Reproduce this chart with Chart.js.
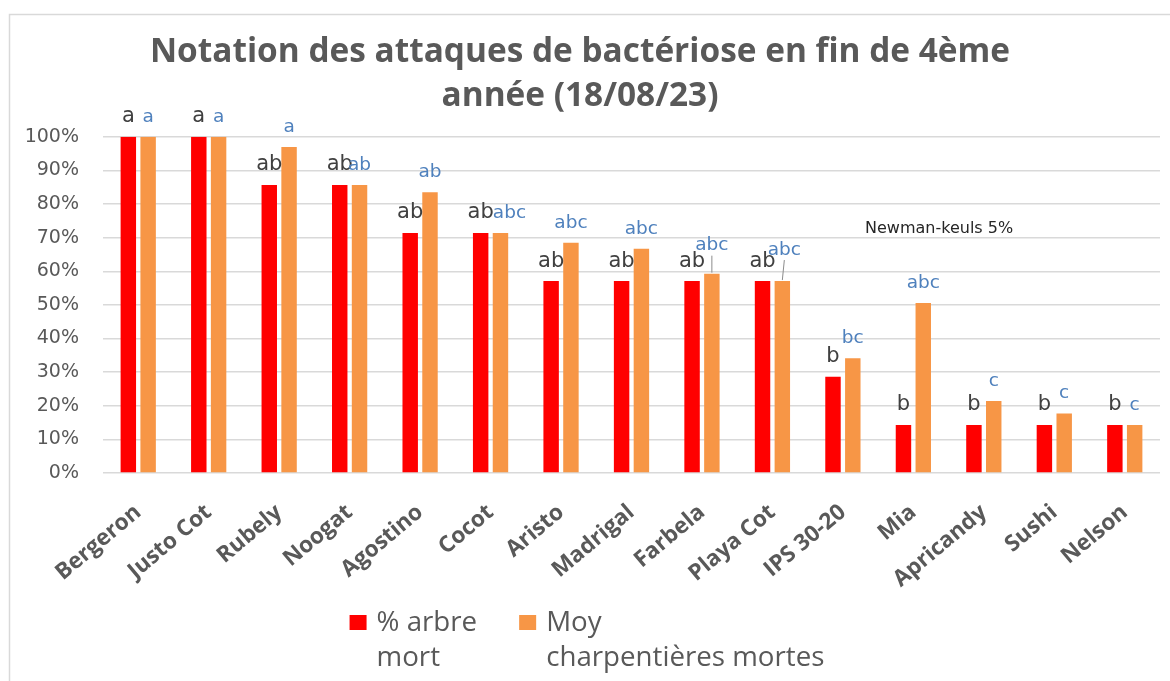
<!DOCTYPE html>
<html>
<head>
<meta charset="utf-8">
<script src="https://cdn.jsdelivr.net/npm/chart.js@4"></script>
<style>
html,body{margin:0;padding:0;background:#fff;overflow:hidden}
#wrap{width:1170px;height:681px;position:relative}
</style>
</head>
<body>
<div id="wrap"><canvas id="c" width="1170" height="681"></canvas></div>
<script>
// ---- data ----
const categories = ["Bergeron","Justo Cot","Rubely","Noogat","Agostino","Cocot","Aristo","Madrigal","Farbela","Playa Cot","IPS 30-20","Mia","Apricandy","Sushi","Nelson"];
const pctArbreMort = [100,100,85.7,85.7,71.4,71.4,57.1,57.1,57.1,57.1,28.6,14.3,14.3,14.3,14.3];
const moyCharpentieres = [100,100,97,85.7,83.5,71.4,68.5,66.7,59.3,57.1,34.1,50.6,21.4,17.7,14.3];
const lettersArbre = ["a","a","ab","ab","ab","ab","ab","ab","ab","ab","b","b","b","b","b"];
const lettersCharp = ["a","a","a","ab","ab","abc","abc","abc","abc","abc","bc","abc","c","c","c"];
const yTickValues = [0,10,20,30,40,50,60,70,80,90,100];
const seriesNames = [["% arbre","mort"],["Moy","charpentières mortes"]];
const titleLines = ["Notation des attaques de bactériose en fin de 4ème","année (18/08/23)"];
const noteText = "Newman-keuls 5%";

// ---- styling ----
const colors = ["#FF0000","#F79646"];
const letterColors = ["#404040","#4F81BD"];
// per-label tweaks for the second series (dx, extra lift, leader line)
const charpLabelTweaks = {5:{dx:9,lift:0}, 8:{dx:0,lift:8,leader:true}, 9:{dx:2,lift:11,leader:true}};

const framePlugin = {
  id:'frame',
  beforeDraw(chart){
    const ctx = chart.ctx;
    ctx.save();
    ctx.fillStyle = '#fff';
    ctx.fillRect(0,0,chart.width,chart.height);
    ctx.strokeStyle = '#d9d9d9';
    ctx.lineWidth = 1.5;
    ctx.strokeRect(9.5,14.5,chart.width+20,chart.height+20);
    ctx.restore();
  }
};

const lettersPlugin = {
  id:'letters',
  afterDatasetsDraw(chart){
    const ctx = chart.ctx;
    ctx.save();
    ctx.textAlign = 'center';
    ctx.textBaseline = 'middle';
    const sets = [lettersArbre, lettersCharp];
    const fonts = ["21px 'DejaVu Sans'", "18.5px 'DejaVu Sans'"];
    [0,1].forEach(di=>{
      const meta = chart.getDatasetMeta(di);
      ctx.font = fonts[di];
      ctx.fillStyle = letterColors[di];
      meta.data.forEach((bar,i)=>{
        let dx = 0, lift = 0, tw = null;
        if (di===1 && charpLabelTweaks[i]) { tw = charpLabelTweaks[i]; dx = tw.dx; lift = tw.lift; }
        const x = bar.x + dx;
        const y = bar.y - 20 - lift;
        ctx.fillText(sets[di][i], x, y);
        if (tw && tw.leader) {
          ctx.save();
          ctx.strokeStyle = '#8c8c8c';
          ctx.lineWidth = 1;
          ctx.beginPath();
          ctx.moveTo(x, y + 10);
          ctx.lineTo(bar.x, bar.y - 1);
          ctx.stroke();
          ctx.restore();
        }
      });
    });
    // note
    const ys = chart.scales.y;
    ctx.font = "16px 'DejaVu Sans'";
    ctx.fillStyle = '#262626';
    ctx.textAlign = 'left';
    ctx.fillText(noteText, 865, ys.getPixelForValue(72.7));
    ctx.restore();
  }
};

const legendPlugin = {
  id:'customLegend',
  afterDraw(chart){
    const ctx = chart.ctx;
    ctx.save();
    ctx.font = "27.7px 'Open Sans'";
    ctx.textBaseline = 'middle';
    ctx.textAlign = 'left';
    const box = 17, gapBox = 10, gapItem = 42;
    const widths = seriesNames.map(lines => Math.max(...lines.map(l=>ctx.measureText(l).width)));
    const total = widths.reduce((a,w)=>a+box+gapBox+w,0) + gapItem*(seriesNames.length-1);
    let x = chart.width/2 - total/2 + 2;
    const y1 = 623, lh = 35;
    seriesNames.forEach((lines,i)=>{
      ctx.fillStyle = colors[i];
      ctx.fillRect(x, y1-8, box, 15);
      ctx.fillStyle = '#595959';
      lines.forEach((l,k)=> ctx.fillText(l, x+box+gapBox, y1 + k*lh));
      x += box + gapBox + widths[i] + gapItem;
    });
    ctx.restore();
  }
};

new Chart(document.getElementById('c'), {
  type:'bar',
  data:{
    labels: categories,
    datasets:[
      {label: seriesNames[0].join(' '), data: pctArbreMort, backgroundColor: colors[0], categoryPercentage:0.562, barPercentage:0.78},
      {label: seriesNames[1].join(' '), data: moyCharpentieres, backgroundColor: colors[1], categoryPercentage:0.562, barPercentage:0.78}
    ]
  },
  options:{
    responsive:false,
    animation:false,
    devicePixelRatio:1,
    layout:{padding:{left:0,right:10,top:0,bottom:0}},
    plugins:{
      legend:{display:false},
      tooltip:{enabled:false},
      title:{
        display:true,
        text:titleLines,
        color:'#595959',
        font:{family:'Open Sans',weight:'bold',size:33.4,lineHeight:1.3},
        padding:{top:31,bottom:19}
      }
    },
    scales:{
      x:{
        grid:{display:false},
        border:{display:false},
        ticks:{
          color:'#595959',
          font:{family:'Open Sans',weight:'bold',size:22.5},
          minRotation:40,maxRotation:40,
          padding:18
        },
        afterFit(s){ s.height = 208; }
      },
      y:{
        min:0,max:100,
        grid:{color:'#d9d9d9',lineWidth:1.5,drawTicks:false},
        border:{display:false},
        afterBuildTicks(s){ s.ticks = yTickValues.map(v=>({value:v})); },
        ticks:{
          color:'#595959',
          font:{family:'DejaVu Sans',size:19},
          padding:24,
          callback:(v)=> v + '%'
        },
        afterFit(s){ s.width = 103; }
      }
    }
  },
  plugins:[framePlugin, lettersPlugin, legendPlugin]
});
</script>
</body>
</html>
